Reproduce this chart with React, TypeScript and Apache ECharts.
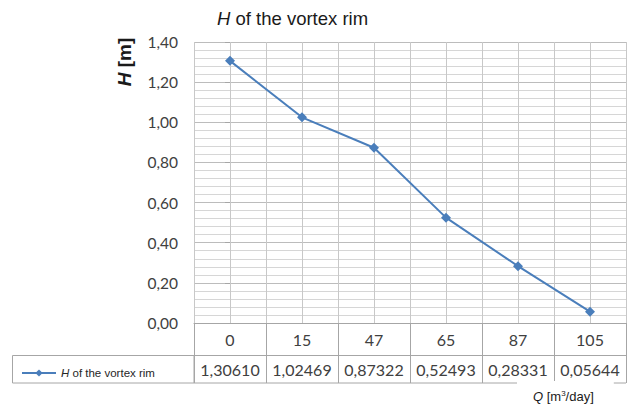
import React, { useEffect, useRef } from 'react';
import * as echarts from 'echarts';

const categories = ['0', '15', '47', '65', '87', '105'];
const seriesName = 'H of the vortex rim';
const hValues = [1.3061, 1.02469, 0.87322, 0.52493, 0.28331, 0.05644];
const yMin = 0;
const yMax = 1.4;
const yStep = 0.2;

const fmtComma = (v: number, d: number) => v.toFixed(d).replace('.', ',');

export default function App() {
  const ref = useRef<HTMLDivElement>(null);
  useEffect(() => {
    if (!ref.current) return;
    const chart = echarts.init(ref.current, undefined, { renderer: 'svg' });
    const border = '#a6a6a6';
    const numFont = 'Lato';
    const option: any = {
      animation: false,
      backgroundColor: '#ffffff',
      title: {
        text: '{i|H} of the vortex rim',
        left: 212,
        top: 4,
        textStyle: {
          fontFamily: 'Liberation Sans',
          fontSize: 18.5,
          fontWeight: 'normal',
          color: '#1a1a1a',
          rich: {
            i: { fontFamily: 'Liberation Sans', fontSize: 18.5, fontStyle: 'italic', color: '#1a1a1a' },
          },
        },
      },
      legend: {
        left: 16,
        top: 362,
        itemWidth: 34,
        itemHeight: 9,
        data: [seriesName],
        formatter: () => '{i|H} of the vortex rim',
        textStyle: {
          fontFamily: 'Liberation Sans',
          fontSize: 11.5,
          color: '#262626',
          rich: {
            i: { fontFamily: 'Liberation Sans', fontSize: 11.5, fontStyle: 'italic', color: '#262626' },
          },
        },
      },
      grid: { left: 194, top: 42, width: 432, height: 281, containLabel: false },
      xAxis: [
        {
          type: 'category',
          data: categories,
          boundaryGap: true,
          position: 'bottom',
          axisLine: { show: true, lineStyle: { color: border, width: 1 } },
          axisTick: { show: true, interval: 0, length: 32, lineStyle: { color: border } },
          axisLabel: { margin: 8, fontFamily: numFont, fontSize: 16, color: '#404040', interval: 0 },
          splitLine: { show: false },
        },
        {
          type: 'category',
          data: hValues.map((v) => fmtComma(v, 5)),
          boundaryGap: true,
          position: 'bottom',
          offset: 32,
          axisLine: { show: true, lineStyle: { color: border, width: 1 } },
          axisTick: { show: true, interval: 0, length: 28, lineStyle: { color: border } },
          axisLabel: { margin: 6, fontFamily: numFont, fontSize: 16, color: '#404040', interval: 0 },
          splitLine: { show: false },
        },
        {
          type: 'value',
          min: -0.5,
          max: categories.length - 0.5,
          interval: 0.5,
          show: true,
          axisLine: { show: false },
          axisTick: { show: false },
          axisLabel: { show: false },
          splitLine: { show: true, lineStyle: { color: '#c8c8c8', width: 1 } },
        },
      ],
      yAxis: {
        type: 'value',
        min: yMin,
        max: yMax,
        interval: yStep,
        axisLine: { show: false },
        axisTick: { show: true, length: 5, lineStyle: { color: border } },
        axisLabel: {
          margin: 16,
          fontFamily: numFont,
          fontSize: 15.5,
          color: '#404040',
          formatter: (v: number) => fmtComma(v, 2),
        },
        splitLine: { show: true, lineStyle: { color: '#bcbcbc', width: 1 } },
        minorTick: { show: false, splitNumber: 5 },
        minorSplitLine: { show: true, lineStyle: { color: '#d6d6d6', width: 1 } },
      },
      series: [
        {
          name: seriesName,
          type: 'line',
          xAxisIndex: 0,
          yAxisIndex: 0,
          data: hValues,
          symbol: 'diamond',
          symbolSize: 10,
          lineStyle: { color: '#4a7ebb', width: 2 },
          itemStyle: { color: '#4a7ebb' },
        },
      ],
      graphic: [
        {
          type: 'rect',
          shape: { x: 12.5, y: 355.5, width: 181.5, height: 27.5 },
          style: { fill: 'none', stroke: border, lineWidth: 1 },
        },
        {
          type: 'line',
          shape: { x1: 194, y1: 383, x2: 626, y2: 383 },
          style: { stroke: border, lineWidth: 1 },
        },
        {
          type: 'text',
          x: 124,
          y: 62,
          rotation: Math.PI / 2,
          style: {
            text: '{i|H} [m]',
            align: 'center',
            verticalAlign: 'middle',
            fontFamily: 'Liberation Sans',
            fontSize: 19,
            fontWeight: 'bold',
            fill: '#1a1a1a',
            rich: {
              i: { fontFamily: 'Liberation Sans', fontSize: 19, fontWeight: 'bold', fontStyle: 'italic', fill: '#1a1a1a' },
            },
          },
        },
        {
          type: 'text',
          x: 517,
          y: 381,
          z: 100,
          style: {
            text: '{q|Q} [m{s|3}/day]',
            align: 'left',
            verticalAlign: 'top',
            fontFamily: 'Liberation Sans',
            fontSize: 13,
            fill: '#1a1a1a',
            backgroundColor: '#ffffff',
            padding: [8, 20, 6, 16],
            rich: {
              q: { fontFamily: 'Liberation Sans', fontSize: 13, fontStyle: 'italic', fill: '#1a1a1a' },
              s: { fontFamily: 'Liberation Sans', fontSize: 8, fill: '#1a1a1a', verticalAlign: 'top', padding: [0, 0, 7, 0] },
            },
          },
        },
      ],
    };
    chart.setOption(option);
    return () => chart.dispose();
  }, []);
  return <div ref={ref} style={{ width: 629, height: 406, position: 'absolute', left: 0, top: 0 }} />;
}
